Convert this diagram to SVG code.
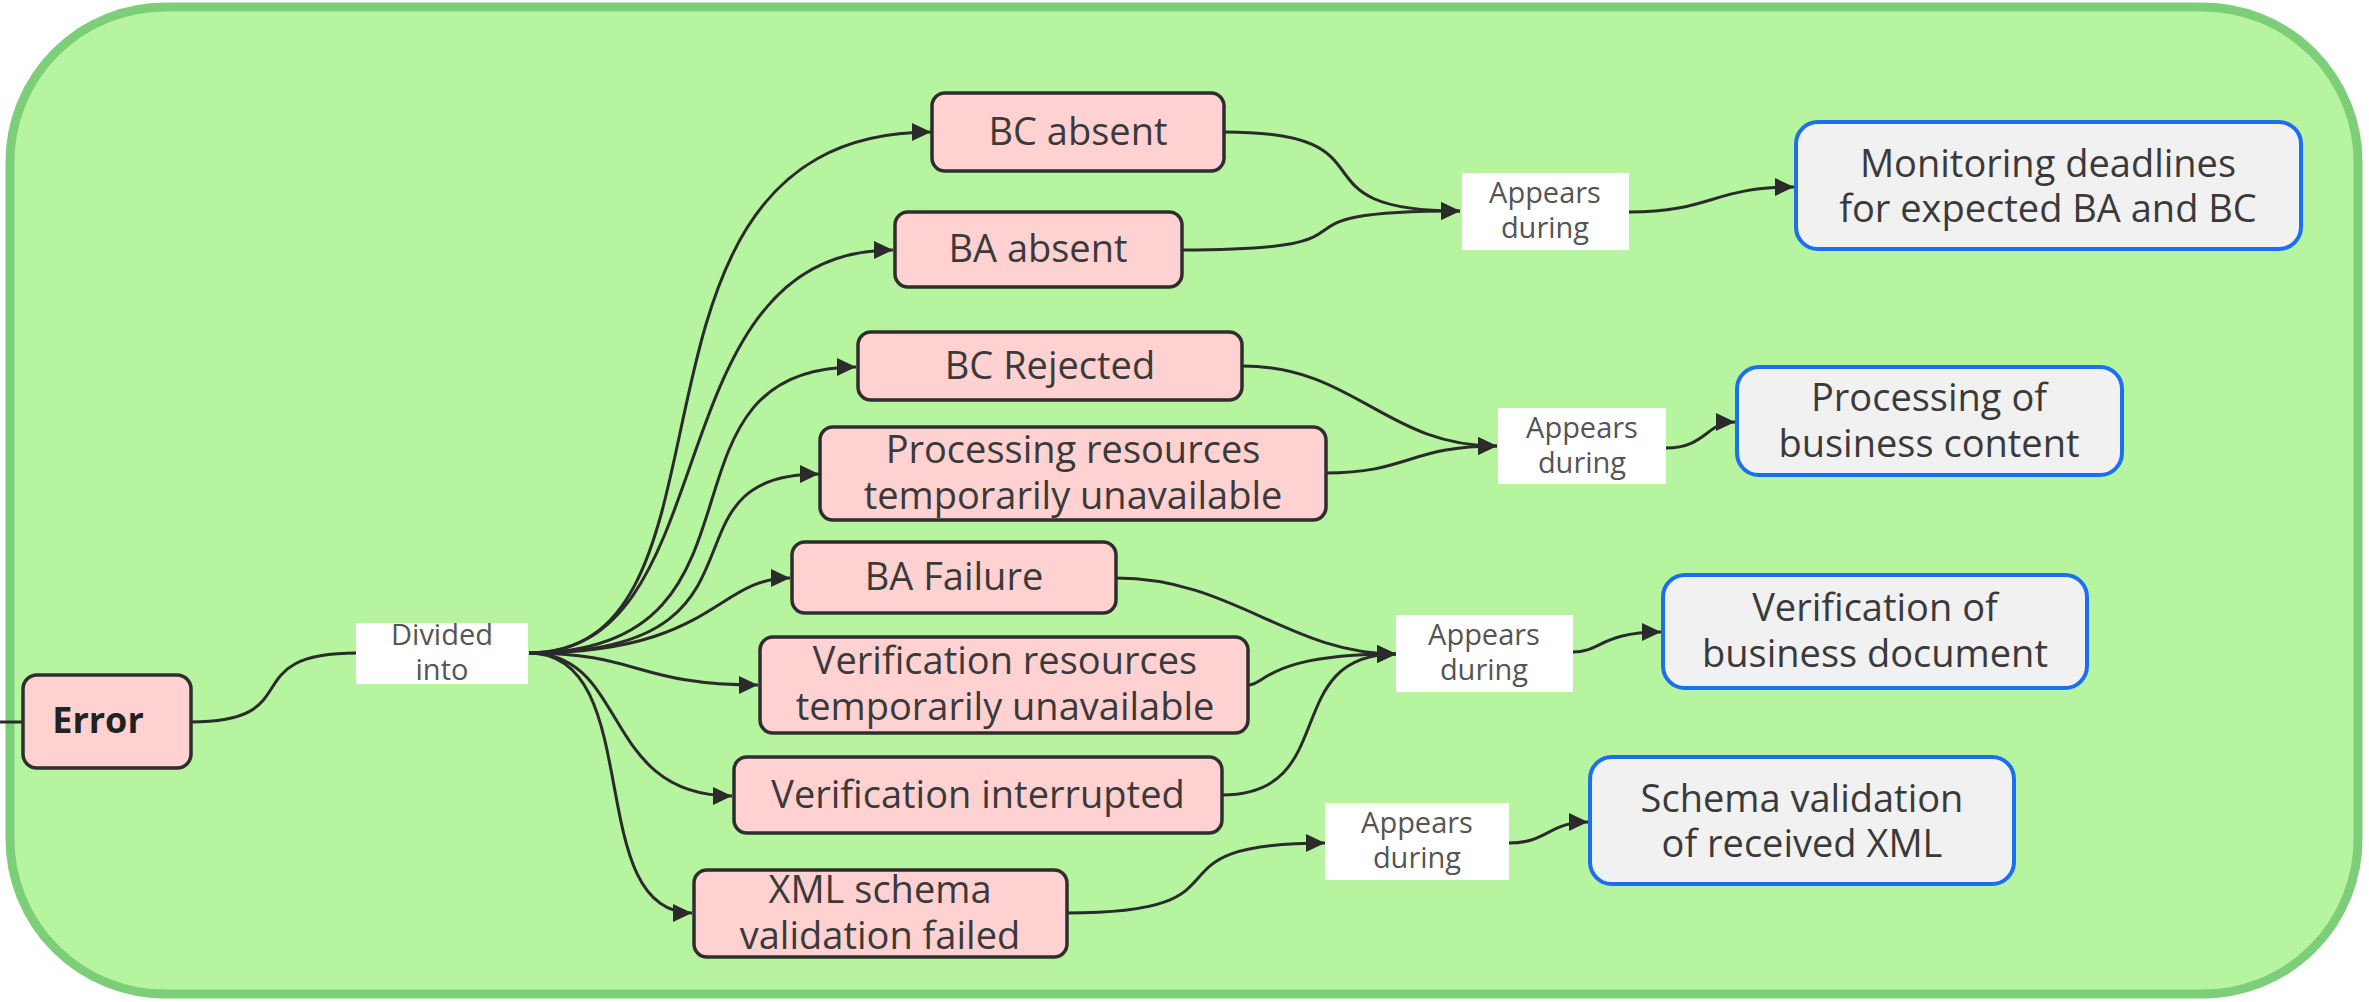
<svg xmlns="http://www.w3.org/2000/svg" width="2369" height="1002" viewBox="0 0 2369 1002">
<defs>
<marker id="arr" markerUnits="userSpaceOnUse" markerWidth="20" markerHeight="18" refX="19" refY="9" orient="auto" viewBox="0 0 20 18">
<path d="M0,0 L19,9 L0,18 z" fill="#2b2b2b"/>
</marker>
<style>
.pink{fill:#ffd1d1;stroke:#2e2e2e;stroke-width:3.5}
.blue{fill:#f1f1f1;stroke:#1c6ff0;stroke-width:4}
.lbl{fill:#ffffff}
.t{font-family:"Open Sans","Noto Sans",sans-serif;font-size:38px;fill:#3a3a3a;text-anchor:middle}
.tb{font-family:"Open Sans","Noto Sans",sans-serif;font-size:36px;font-weight:bold;fill:#222;text-anchor:middle}
.tl{font-family:"Open Sans","Noto Sans",sans-serif;font-size:29px;fill:#555;text-anchor:middle}
.c{fill:none;stroke:#2b2b2b;stroke-width:3}
.ca{fill:none;stroke:#2b2b2b;stroke-width:3;marker-end:url(#arr)}
</style>
</defs>
<rect id="container" x="10" y="7" width="2348" height="987" rx="155" ry="155" fill="#b6f4a0" stroke="#7dce78" stroke-width="9"/>

<g id="connectors">
<path class="c" d="M0,722 L23,722"/>
<path class="c" d="M191,722 C311,722 232,653 357,653"/>
<path class="ca" d="M529,653 C760,653 590,132 931,132"/>
<path class="ca" d="M529,653 C730,653 650,250 893,250"/>
<path class="ca" d="M529,653 C788,653 640,367 856,367"/>
<path class="ca" d="M529,653 C790,653 650,474 819,474"/>
<path class="ca" d="M529,653 C715,653 715,578 790,578"/>
<path class="ca" d="M529,653 C640,653 636,685 758,685"/>
<path class="ca" d="M529,653 C630,653 600,796 732,796"/>
<path class="ca" d="M529,653 C648,653 581,913 692,913"/>

<path class="ca" d="M1224,132 C1404,132 1283,211 1460,211"/>
<path class="ca" d="M1182,250 C1410,250 1240,211 1460,211"/>
<path class="ca" d="M1629,212 C1712,212 1712,187 1794,187"/>

<path class="ca" d="M1242,366 C1355,366 1385,446 1497,446"/>
<path class="ca" d="M1326,473 C1409,473 1409,446 1497,446"/>
<path class="ca" d="M1666,448 C1706,448 1706,422 1735,422"/>

<path class="ca" d="M1116,578 C1233,578 1289,654 1396,654"/>
<path class="ca" d="M1248,685 C1266,685 1266,654 1396,654"/>
<path class="ca" d="M1222,795 C1342,795 1278,654 1396,654"/>
<path class="ca" d="M1573,652 C1601,652 1601,632 1661,632"/>

<path class="ca" d="M1067,913 C1267,913 1131,843 1325,843"/>
<path class="ca" d="M1509,843 C1548,843 1548,822 1588,822"/>
</g>

<g id="label-divided">
<rect class="lbl" x="356" y="623" width="172" height="61"/>
<text class="tl" x="442" y="645">Divided<tspan x="442" dy="35">into</tspan></text>
</g>
<g id="label-appears-1">
<rect class="lbl" x="1462" y="173" width="167" height="77"/>
<text class="tl" x="1545" y="203">Appears<tspan x="1545" dy="35">during</tspan></text>
</g>
<g id="label-appears-2">
<rect class="lbl" x="1498" y="408" width="168" height="76"/>
<text class="tl" x="1582" y="438">Appears<tspan x="1582" dy="35">during</tspan></text>
</g>
<g id="label-appears-3">
<rect class="lbl" x="1396" y="615" width="177" height="77"/>
<text class="tl" x="1484" y="645">Appears<tspan x="1484" dy="35">during</tspan></text>
</g>
<g id="label-appears-4">
<rect class="lbl" x="1325" y="803" width="184" height="77"/>
<text class="tl" x="1417" y="833">Appears<tspan x="1417" dy="35">during</tspan></text>
</g>

<g id="node-error">
<rect class="pink" x="23" y="675" width="168" height="93" rx="14"/>
<text class="tb" x="98" y="733">Error</text>
</g>
<g id="node-bc-absent">
<rect class="pink" x="932" y="93" width="292" height="78" rx="13"/>
<text class="t" x="1078" y="145">BC absent</text>
</g>
<g id="node-ba-absent">
<rect class="pink" x="895" y="212" width="287" height="75" rx="13"/>
<text class="t" x="1038" y="262">BA absent</text>
</g>
<g id="node-bc-rejected">
<rect class="pink" x="858" y="332" width="384" height="68" rx="13"/>
<text class="t" x="1050" y="379">BC Rejected</text>
</g>
<g id="node-processing-resources">
<rect class="pink" x="820" y="427" width="506" height="93" rx="13"/>
<text class="t" x="1073" y="463">Processing resources<tspan x="1073" dy="46">temporarily unavailable</tspan></text>
</g>
<g id="node-ba-failure">
<rect class="pink" x="792" y="542" width="324" height="71" rx="13"/>
<text class="t" x="954" y="590">BA Failure</text>
</g>
<g id="node-verification-resources">
<rect class="pink" x="760" y="637" width="488" height="96" rx="13"/>
<text class="t" x="1005" y="674">Verification resources<tspan x="1005" dy="46">temporarily unavailable</tspan></text>
</g>
<g id="node-verification-interrupted">
<rect class="pink" x="734" y="757" width="488" height="76" rx="13"/>
<text class="t" x="978" y="808">Verification interrupted</text>
</g>
<g id="node-xml-failed">
<rect class="pink" x="694" y="870" width="373" height="87" rx="13"/>
<text class="t" x="880" y="903">XML schema<tspan x="880" dy="46">validation failed</tspan></text>
</g>

<g id="node-monitoring">
<rect class="blue" x="1796" y="122" width="505" height="127" rx="22"/>
<text class="t" x="2048" y="177">Monitoring deadlines<tspan x="2048" dy="45">for expected BA and BC</tspan></text>
</g>
<g id="node-processing-content">
<rect class="blue" x="1737" y="367" width="385" height="108" rx="22"/>
<text class="t" x="1929" y="411">Processing of<tspan x="1929" dy="46">business content</tspan></text>
</g>
<g id="node-verification-document">
<rect class="blue" x="1663" y="575" width="424" height="113" rx="22"/>
<text class="t" x="1875" y="621">Verification of<tspan x="1875" dy="46">business document</tspan></text>
</g>
<g id="node-schema-validation">
<rect class="blue" x="1590" y="757" width="424" height="127" rx="22"/>
<text class="t" x="1802" y="812">Schema validation<tspan x="1802" dy="45">of received XML</tspan></text>
</g>
</svg>
